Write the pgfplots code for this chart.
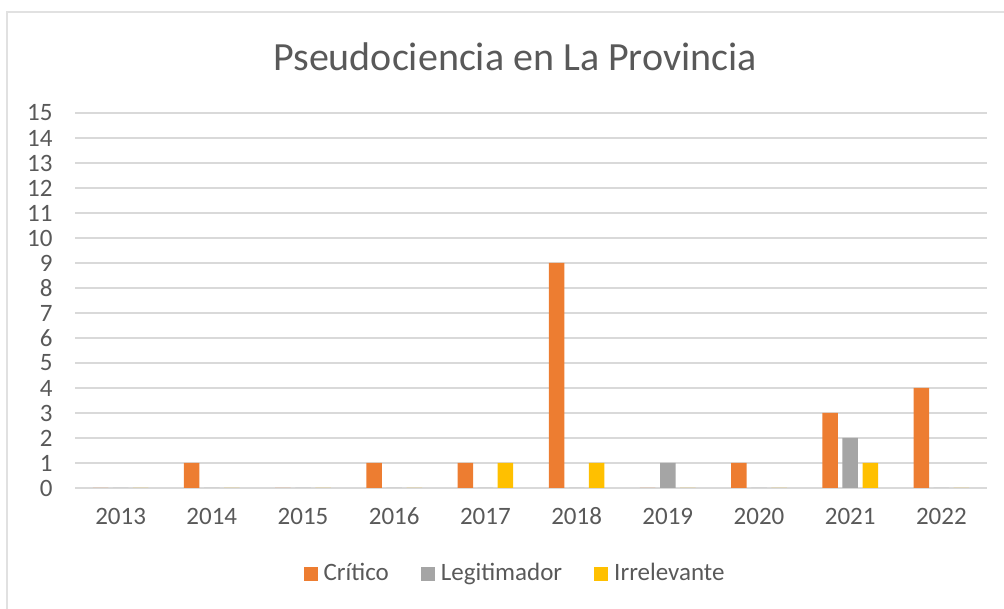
\documentclass[border=0pt]{standalone}
\usepackage{pgfplots}
\pgfplotsset{compat=1.18}
\usepackage{fontspec}
\setmainfont{Carlito}
\definecolor{corange}{HTML}{ED7D31}
\definecolor{cgray}{HTML}{A5A5A5}
\definecolor{cgold}{HTML}{FFC000}
\definecolor{ctext}{HTML}{595959}
\definecolor{cgrid}{HTML}{D9D9D9}
\begin{document}
\begin{tikzpicture}
\path[use as bounding box] (0pt,0pt) rectangle (1004pt,609pt);
\draw[cgrid!80, line width=1.5pt] (7pt,0pt) -- (7pt,597pt) -- (1004pt,597pt);
\node[text=ctext, font=\fontsize{40}{48}\selectfont] at (515pt,552pt) {Pseudociencia en La Provincia};
\begin{axis}[
  at={(75pt,121pt)}, anchor=south west,
  scale only axis, width=912pt, height=375pt,
  xmin=-0.5, xmax=9.5, ymin=0, ymax=15,
  ytick={0,1,...,15},
  xtick={0,...,9},
  xticklabels={2013,2014,2015,2016,2017,2018,2019,2020,2021,2022},
  ymajorgrids, grid style={cgrid, line width=1.5pt},
  axis line style={draw=none},
  major tick length=0pt,
  tick label style={text=ctext, font=\fontsize{25}{30}\selectfont},
  /pgf/number format/assume math mode=true,
  xticklabel style={anchor=base, yshift=-37pt},
  yticklabel style={xshift=-19pt},
  ybar, bar width=0.17,
  legend columns=3,
  legend style={at={(0.4825,-0.2267)}, anchor=center, draw=none, fill=none,
    font=\fontsize{25}{30}\selectfont, text=ctext,
    /tikz/every odd column/.append style={column sep=4pt},
    /tikz/every even column/.append style={column sep=30pt}},
  legend image code/.code={\fill[#1] (0pt,-8pt) rectangle (14pt,6pt);},
]
\addplot[fill=corange, draw=none, bar shift=-0.22] coordinates {(0,0) (1,1) (2,0) (3,1) (4,1) (5,9) (6,0) (7,1) (8,3) (9,4)};
\addplot[fill=cgray, draw=none, bar shift=0] coordinates {(0,0) (1,0) (2,0) (3,0) (4,0) (5,0) (6,1) (7,0) (8,2) (9,0)};
\addplot[fill=cgold, draw=none, bar shift=0.22] coordinates {(0,0) (1,0) (2,0) (3,0) (4,1) (5,1) (6,0) (7,0) (8,1) (9,0)};
\legend{Crítico, Legitimador, Irrelevante}
\end{axis}
\end{tikzpicture}
\end{document}
